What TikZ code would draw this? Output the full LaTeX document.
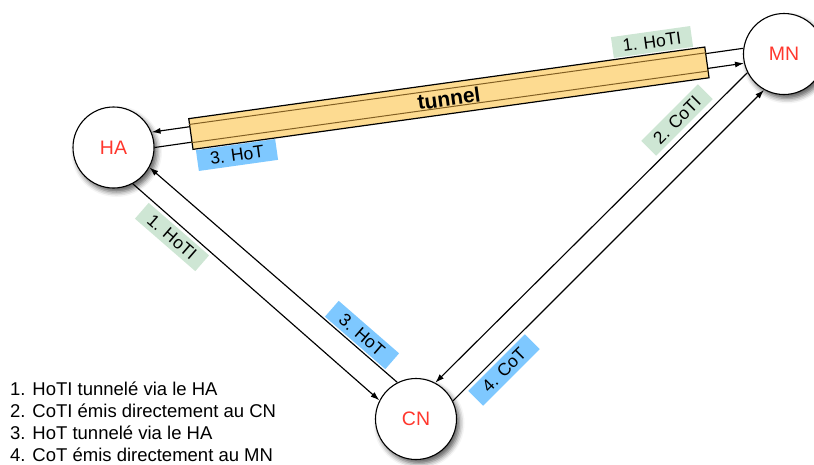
\documentclass[tikz,border=0pt]{standalone}
\usepackage{fontspec}
\setmainfont{Liberation Sans}
\usetikzlibrary{arrows.meta,calc,shadows.blur}

\definecolor{nodered}{RGB}{255,55,45}
\definecolor{labgreen}{RGB}{206,230,212}
\definecolor{labblue}{RGB}{126,200,255}
\definecolor{tunnelfill}{RGB}{253,219,145}
\definecolor{tunnelrule}{RGB}{130,95,35}

\tikzset{
  station/.style={circle, draw, line width=1.1pt, fill=white, minimum size=81pt,
    inner sep=0pt, text=nodered, font=\fontsize{19.5}{22}\selectfont,
    blur shadow={shadow xshift=3pt, shadow yshift=-4pt,
      shadow blur radius=5pt, shadow opacity=65}},
  conn/.style={line width=1.15pt},
  flow/.style={conn, -{Latex[length=9pt,width=6pt]}},
  msglabel/.style={inner sep=0pt, minimum width=80pt, minimum height=21pt,
    font=\fontsize{17.5}{20}\selectfont},
  greenlab/.style={msglabel, fill=labgreen},
  bluelab/.style={msglabel, fill=labblue},
  tunnelbox/.style={draw, line width=1.2pt, fill=tunnelfill, inner sep=0pt,
    minimum width=521pt, minimum height=31pt},
  tunnelrule/.style={draw=tunnelrule, line width=1pt},
  legendtext/.style={anchor=base west, inner sep=0pt,
    font=\fontsize{18.5}{21}\selectfont},
}

\begin{document}
\begin{tikzpicture}[x=1pt,y=-1pt]
\useasboundingbox (0,0) rectangle (814,464);

% the three hosts
\node[station] (HA) at (113.5,147.5) {HA};
\node[station] (MN) at (784,54) {MN};
\node[station] (CN) at (416,419) {CN};

% HA <-> MN (carried through the tunnel)
\draw[flow] (MN.172) -- (HA.22);
\draw[flow] (HA.0) -- (MN.-167);

% MN <-> CN
\draw[flow] (MN.207.4) -- (CN.62.2);
\draw[flow] (CN.26.1) -- (MN.241.9);

% HA <-> CN
\draw[flow] (HA.-62.5) -- (CN.153.6);
\draw[flow] (CN.117) -- (HA.-29.4);

% message labels
\node[greenlab, rotate=8] (lHoTItop) at (652,42) {1. HoTI};
\node[bluelab, rotate=8] (lHoTtop) at (237,155) {3. HoT};
\node[greenlab, rotate=45] (lCoTI) at (677,120) {2. CoTI};
\node[bluelab, rotate=45] (lCoT) at (504,370) {4. CoT};
\node[greenlab, rotate=-41] (lHoTIlow) at (172,237) {1. HoTI};
\node[bluelab, rotate=-41] (lHoTlow) at (362,335) {3. HoT};

% the tunnel between HA and MN
\node[tunnelbox, rotate=7.9] (tunnel) at (448.9,98.2) {};
\draw[tunnelrule] ($(tunnel.north west)!0.2!(tunnel.south west)$)
  -- ($(tunnel.north east)!0.2!(tunnel.south east)$);
\draw[tunnelrule] ($(tunnel.north west)!0.77!(tunnel.south west)$)
  -- ($(tunnel.north east)!0.77!(tunnel.south east)$);
\node[rotate=7.9, font=\fontsize{21}{24}\selectfont\bfseries]
  (tunneltext) at (tunnel.center) {tunnel};

% legend
\node[legendtext] (key1) at (10,395) {1. HoTI tunnelé via le HA};
\node[legendtext] (key2) at (10,417.2) {2. CoTI émis directement au CN};
\node[legendtext] (key3) at (10,439.5) {3. HoT tunnelé via le HA};
\node[legendtext] (key4) at (10,461.7) {4. CoT émis directement au MN};
\end{tikzpicture}
\end{document}
